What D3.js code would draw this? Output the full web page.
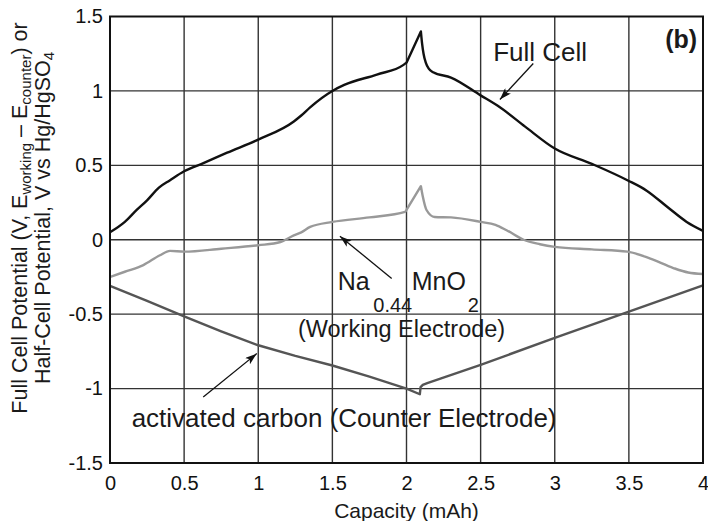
<!DOCTYPE html>
<html>
<head>
<meta charset="utf-8">
<script src="https://cdn.jsdelivr.net/npm/d3@7"></script>
<style>
  html, body { margin: 0; padding: 0; background: #fff; }
  svg { display: block; font-family: "Liberation Sans", Arial, Helvetica, sans-serif; }
</style>
</head>
<body>
<svg id="chart" width="708" height="521"></svg>
<script>
// ---- Data ----
const xTicks = [0, 0.5, 1, 1.5, 2, 2.5, 3, 3.5, 4];
const xTickLabels = ["0", "0.5", "1", "1.5", "2", "2.5", "3", "3.5", "4"];
const yTicks = [1.5, 1, 0.5, 0, -0.5, -1, -1.5];
const yTickLabels = ["1.5", "1", "0.5", "0", "-0.5", "-1", "-1.5"];

// Full cell
const fullCap = [0, 0.1, 0.18, 0.25, 0.33, 0.405, 0.5, 0.63, 0.79, 1.0, 1.24, 1.29, 1.35, 1.5, 1.58, 1.8, 1.98, 2.0, 2.097, 2.105, 2.115, 2.13, 2.15, 2.18, 2.3, 2.5, 2.63, 2.8, 3.0, 3.25, 3.49, 3.62, 3.76, 3.89, 4.0];
const fullV   = [0.05, 0.12, 0.2, 0.265, 0.35, 0.4, 0.46, 0.515, 0.585, 0.673, 0.795, 0.835, 0.89, 1.0, 1.04, 1.11, 1.175, 1.19, 1.40, 1.32, 1.25, 1.19, 1.15, 1.125, 1.09, 0.97, 0.89, 0.76, 0.613, 0.51, 0.40, 0.33, 0.22, 0.12, 0.06];

// Working electrode (Na0.44MnO2)
const workCap = [0, 0.1, 0.225, 0.337, 0.405, 0.5, 0.75, 1.0, 1.15, 1.24, 1.29, 1.35, 1.5, 1.75, 1.99, 2.0, 2.097, 2.11, 2.135, 2.19, 2.3, 2.5, 2.6, 2.675, 2.79, 2.9, 3.0, 3.25, 3.49, 3.645, 3.8, 3.9, 4.0];
const workV   = [-0.25, -0.215, -0.17, -0.104, -0.075, -0.08, -0.06, -0.037, -0.015, 0.03, 0.05, 0.086, 0.12, 0.15, 0.187, 0.2, 0.36, 0.29, 0.2, 0.153, 0.15, 0.12, 0.1, 0.064, 0.0, -0.03, -0.048, -0.065, -0.08, -0.127, -0.19, -0.22, -0.23];

// Counter electrode (activated carbon)
const ctrCap = [0, 0.25, 0.5, 0.75, 1.0, 1.25, 1.5, 1.75, 2.0, 2.09, 2.095, 2.11, 2.14, 2.5, 3.0, 3.5, 4.0];
const ctrV   = [-0.31, -0.41, -0.515, -0.615, -0.709, -0.78, -0.845, -0.92, -1.0, -1.038, -0.99, -0.975, -0.963, -0.84, -0.66, -0.483, -0.306];

// capacities bounding the straight rise to the cusp
const riseStart = 2.0;
const cuspCap = 2.097;

// ---- Layout ----
const svg = d3.select("#chart");
const x = d3.scaleLinear().domain([0, 4]).range([110, 703]);
const y = d3.scaleLinear().domain([-1.5, 1.5]).range([463, 16.5]);

// grid
const grid = svg.append("g");
grid.selectAll("line.vx").data(xTicks.slice(1, -1)).enter().append("line")
  .attr("x1", d => x(d)).attr("x2", d => x(d))
  .attr("y1", y(1.5)).attr("y2", y(-1.5))
  .attr("stroke", "#333").attr("stroke-width", 1.4);
grid.selectAll("line.hy").data(yTicks.slice(1, -1)).enter().append("line")
  .attr("y1", d => y(d)).attr("y2", d => y(d))
  .attr("x1", x(0)).attr("x2", x(4))
  .attr("stroke", "#333").attr("stroke-width", 1.4);

// axes (labels only)
const xAxis = d3.axisBottom(x).tickValues(xTicks).tickSize(0).tickPadding(0)
  .tickFormat((d, i) => xTickLabels[i]);
const gx = svg.append("g").attr("transform", `translate(0,${y(-1.5)})`).call(xAxis);
gx.select(".domain").remove();
gx.selectAll("text").attr("font-size", 20).attr("fill", "#111")
  .attr("font-family", "Liberation Sans, Arial, sans-serif")
  .attr("dy", null).attr("y", 27);

const yAxis = d3.axisLeft(y).tickValues(yTicks).tickSize(0).tickPadding(7)
  .tickFormat((d, i) => yTickLabels[i]);
const gy = svg.append("g").attr("transform", `translate(${x(0)},0)`).call(yAxis);
gy.select(".domain").remove();
gy.selectAll("text").attr("font-size", 20).attr("fill", "#111")
  .attr("font-family", "Liberation Sans, Arial, sans-serif");

// series: smooth away from the cusp, straight rise and sharp cusp
const smooth = d3.line().x(d => x(d[0])).y(d => y(d[1])).curve(d3.curveMonotoneX);
const straight = d3.line().x(d => x(d[0])).y(d => y(d[1])).curve(d3.curveLinear);
const zip = (a, b) => a.map((v, i) => [v, b[i]]);
function cuspPath(pts) {
  const left = pts.filter(p => p[0] <= riseStart);
  const mid = pts.filter(p => p[0] >= riseStart && p[0] <= cuspCap);
  const right = pts.filter(p => p[0] >= cuspCap);
  return smooth(left) + straight(mid).replace(/^M/, "L") + smooth(right).replace(/^M/, "L");
}

svg.append("path").attr("d", straight(zip(ctrCap, ctrV)))
  .attr("fill", "none").attr("stroke", "#555").attr("stroke-width", 2.4).attr("stroke-linejoin", "round");
svg.append("path").attr("d", cuspPath(zip(workCap, workV)))
  .attr("fill", "none").attr("stroke", "#999").attr("stroke-width", 2.4).attr("stroke-linejoin", "round");
svg.append("path").attr("d", cuspPath(zip(fullCap, fullV)))
  .attr("fill", "none").attr("stroke", "#111").attr("stroke-width", 2.4).attr("stroke-linejoin", "round");

// frame
svg.append("rect").attr("x", x(0)).attr("y", y(1.5))
  .attr("width", x(4) - x(0)).attr("height", y(-1.5) - y(1.5))
  .attr("fill", "none").attr("stroke", "#111").attr("stroke-width", 2);

// arrow marker
svg.append("defs").append("marker")
  .attr("id", "arr").attr("viewBox", "0 0 12 8").attr("refX", 12).attr("refY", 4)
  .attr("markerWidth", 12).attr("markerHeight", 8).attr("markerUnits", "userSpaceOnUse")
  .attr("orient", "auto")
  .append("path").attr("d", "M0,0 L12,4 L0,8 L3,4 Z").attr("fill", "#111");

function arrow(x1, y1, x2, y2) {
  svg.append("line").attr("x1", x(x1)).attr("y1", y(y1)).attr("x2", x(x2)).attr("y2", y(y2))
    .attr("stroke", "#111").attr("stroke-width", 1.3).attr("marker-end", "url(#arr)");
}
function label(cx, cy, txt, size, opts = {}) {
  return svg.append("text").attr("x", x(cx)).attr("y", y(cy))
    .attr("font-size", size).attr("fill", "#1a1a1a")
    .attr("font-weight", opts.bold ? "bold" : null)
    .attr("text-anchor", opts.anchor || "start").text(txt);
}

// annotations
label(2.585, 1.2, "Full Cell", 26);
arrow(2.855, 1.184, 2.63, 0.942);

label(1.536, -0.339, "Na", 25);
label(1.776, -0.485, "0.44", 20);
label(2.035, -0.339, "MnO", 25);
label(2.413, -0.485, "2", 20);
label(1.268, -0.653, "(Working Electrode)", 23.5);
arrow(1.9, -0.26, 1.551, 0.024);

label(0.146, -1.257, "activated carbon (Counter Electrode)", 26);
arrow(0.629, -1.056, 0.99, -0.765);

label(3.96, 1.287, "(b)", 25, { bold: true, anchor: "end" });

// axis titles
svg.append("text").attr("x", (x(0) + x(4)) / 2).attr("y", 518)
  .attr("text-anchor", "middle").attr("font-size", 21).attr("fill", "#1a1a1a")
  .text("Capacity (mAh)");

const yt = svg.append("g").attr("transform", "translate(0,218) rotate(-90)");
const t1 = yt.append("text").attr("x", 0).attr("y", 27).attr("text-anchor", "middle")
  .attr("font-size", 21.5).attr("fill", "#1a1a1a");
t1.append("tspan").text("Full Cell Potential (V, E");
t1.append("tspan").attr("font-size", 15).attr("baseline-shift", "-25%").text("working");
t1.append("tspan").text(" \u2013 E");
t1.append("tspan").attr("font-size", 15).attr("baseline-shift", "-25%").text("counter");
t1.append("tspan").text(") or");
const t2 = yt.append("text").attr("x", 0).attr("y", 50).attr("text-anchor", "middle")
  .attr("font-size", 21.5).attr("fill", "#1a1a1a");
t2.append("tspan").text("Half-Cell Potential, V vs Hg/HgSO");
t2.append("tspan").attr("font-size", 15).attr("baseline-shift", "-25%").text("4");
</script>
</body>
</html>
